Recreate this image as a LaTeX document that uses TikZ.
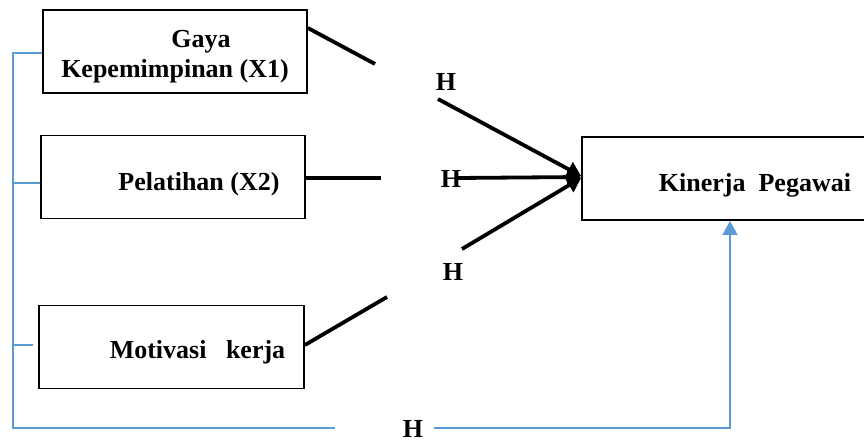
\documentclass[tikz,border=0pt]{standalone}
\usepackage{fontspec}
\setmainfont{Liberation Serif}
\usetikzlibrary{arrows.meta,positioning,calc}
\definecolor{LinkBlue}{HTML}{5B9BD5}
\tikzset{>=Triangle,every node/.style={font=\bfseries\fontsize{26}{30}\selectfont},
 box/.style={draw,line width=1.8pt,minimum height=83pt,inner sep=0pt,align=center},
 hline/.style={draw,line width=3.8pt},
 hyp/.style={hline,-{Triangle[length=14pt,width=16pt]}},
 link/.style={draw=LinkBlue,line width=1.3pt},
 linkarrow/.style={link,-{Triangle[length=14pt,width=15pt]}}}

\begin{document}
\begin{tikzpicture}[x=1pt,y=-1pt]
\useasboundingbox (0,0) rectangle (864,442);
\clip (0,0) rectangle (864,442);
% variables and the dependent one
\node[box,minimum width=264pt] (x1) at (175,51.5) {\rule{0pt}{27pt}\hspace*{2em}Gaya\\Kepemimpinan (X1)};
\node[box,minimum width=264pt,text height=26pt,text depth=0pt] (x2) at (173,177) {\hspace*{2em}Pelatihan (X2)};
\node[box,minimum width=265pt,text height=22pt,text depth=0pt] (x3) at (171.5,347) {\hspace*{2em}Motivasi~~ kerja};
\node[box,minimum width=294pt,text height=26pt,text depth=0pt] (y) at (729,178.5) {\hspace*{2em}Kinerja~ Pegawai};
% hypothesis labels
\node (h1) at (446,82) {H};
\node (h2) at (451,179) {H};
\node (h3) at (453,272) {H};
\node (h4) at (413,429) {H};
% gaps left by the labels
\coordinate (g1a) at (375,64);
\coordinate (g1b) at (438,99);
\coordinate (g2a) at (381,178);
\coordinate (g2b) at (457,178);
\coordinate (g3a) at (387,297);
\coordinate (g3b) at (462,249);
\coordinate (g4a) at (335,428);
\coordinate (g4b) at (434,428);
\coordinate (tl) at (13,53);
\coordinate (bl) at (13,428);
% partial effects
\draw[hline] ([yshift=23.5pt]x1.east) -- (g1a);
\draw[hyp] (g1b) -- ([yshift=2.5pt]y.west);
\draw[hline] ([yshift=-1pt]x2.east) -- (g2a);
\draw[hyp] (g2b) -- ([yshift=1.5pt]y.west);
\draw[hline] ([yshift=2pt]x3.east) -- (g3a);
\draw[hyp] (g3b) -- ([yshift=0.5pt]y.west);
% simultaneous effect
\draw[link] ([yshift=-1.5pt]x1.west) -- (tl) -- (bl) -- (g4a);
\draw[link] ([yshift=-6pt]x2.west) -- (tl |- 0,183);
\draw[link] ([xshift=-5pt,yshift=2pt]x3.west) -- (tl |- 0,345);
\draw[linkarrow] (g4b) -| ([xshift=1pt]y.south);
\end{tikzpicture}
\end{document}
